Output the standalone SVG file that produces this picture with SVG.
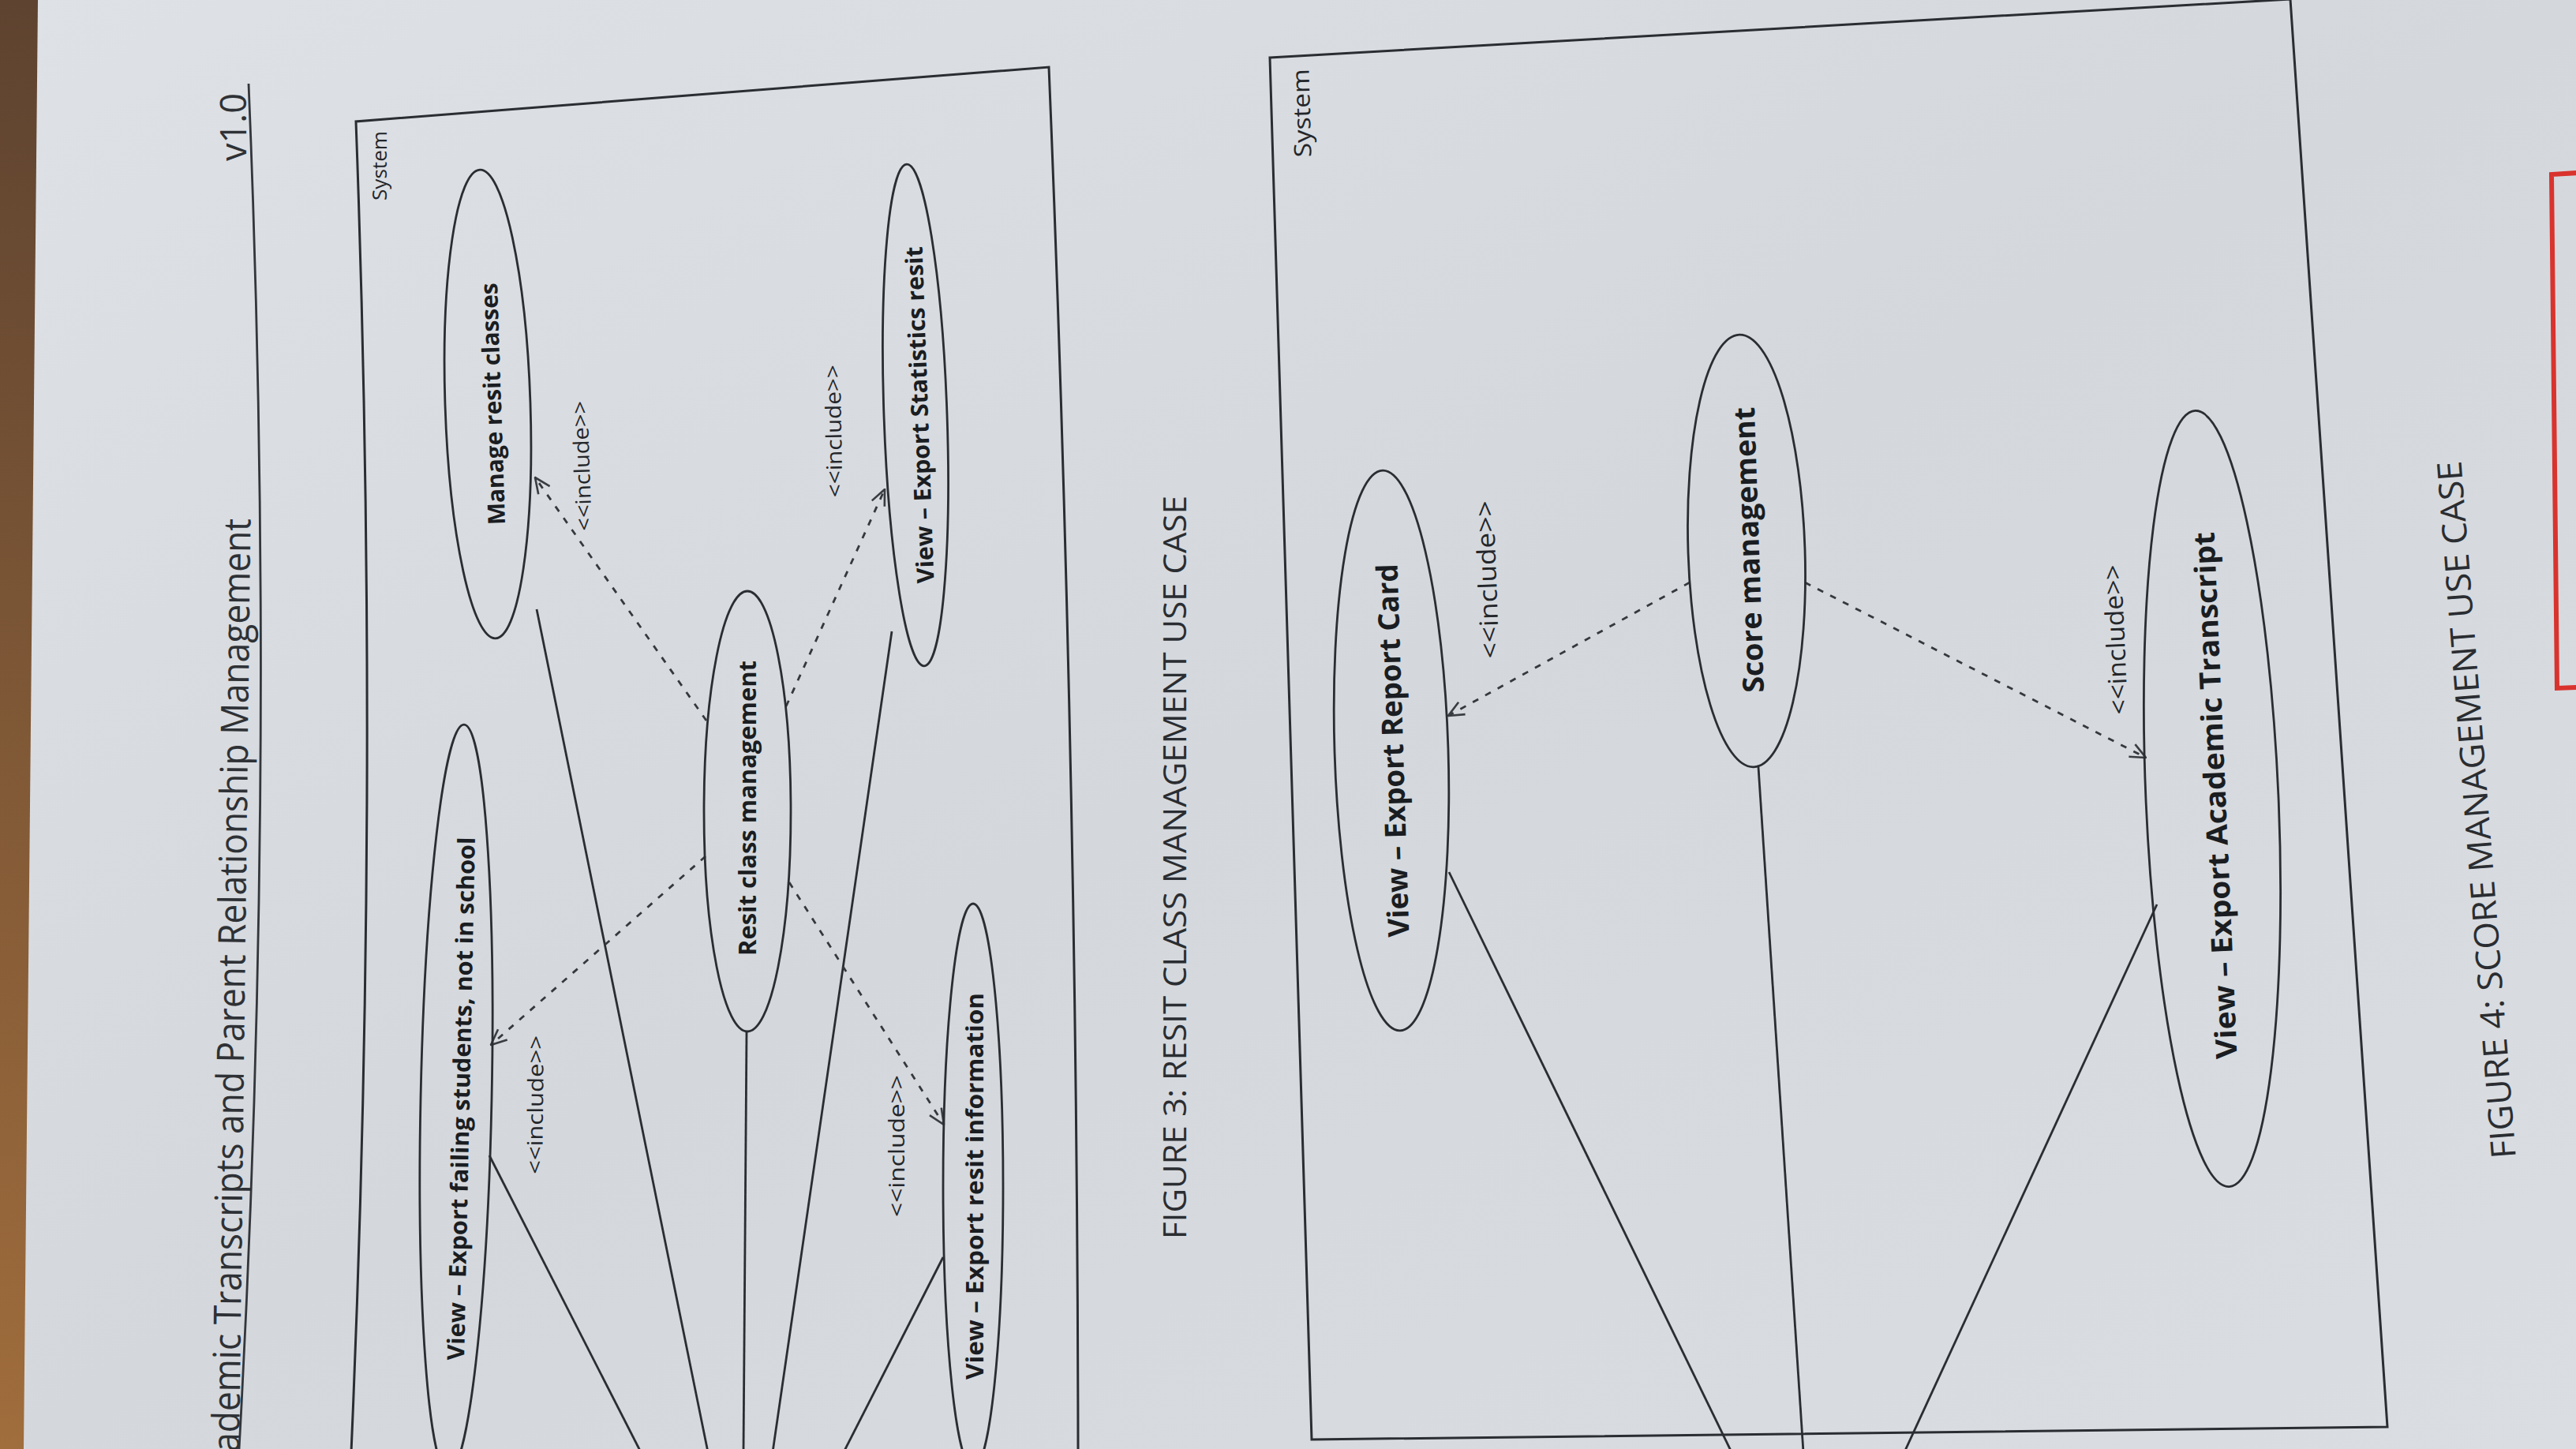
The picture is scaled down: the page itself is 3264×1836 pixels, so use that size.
<svg xmlns="http://www.w3.org/2000/svg" width="3264" height="1836" viewBox="0 0 3264 1836">
<defs>
  <linearGradient id="paper" x1="0" y1="0" x2="1" y2="1">
    <stop offset="0" stop-color="#dee1e5"/>
    <stop offset="0.5" stop-color="#d4d8dd"/>
    <stop offset="1" stop-color="#dadde1"/>
  </linearGradient>
  <linearGradient id="desk" x1="0" y1="0" x2="0" y2="1">
    <stop offset="0" stop-color="#5e4330"/>
    <stop offset="1" stop-color="#a06d3c"/>
  </linearGradient>
  <marker id="open" viewBox="0 0 20 20" refX="19" refY="10" markerWidth="22" markerHeight="22" markerUnits="userSpaceOnUse" orient="auto">
    <path d="M1,2 L19,10 L1,18" fill="none" stroke="#3a3d42" stroke-width="2.4"/>
  </marker>
</defs>
<style>
  .frame{fill:none;stroke:#2a2d32;stroke-width:3}
  .uc{fill:none;stroke:#2a2d32;stroke-width:2.8}
  .assoc{fill:none;stroke:#2a2d32;stroke-width:2.8}
  .inc{fill:none;stroke:#35383d;stroke-width:2.8;stroke-dasharray:8 10;marker-end:url(#open)}
  .lbl{font-family:"Open Sans","DejaVu Sans",sans-serif;font-weight:700;fill:#1a1d21;text-anchor:middle}
  .st{font-family:"Open Sans","DejaVu Sans",sans-serif;fill:#23262a;text-anchor:middle}
  .hdr{font-family:"Open Sans","DejaVu Sans",sans-serif;fill:#2e3135}
  .cap{font-family:"Open Sans","DejaVu Sans",sans-serif;fill:#2a2d31;text-anchor:middle}
</style>

<!-- background: paper and desk edge -->
<rect x="0" y="0" width="3264" height="1836" fill="url(#paper)"/>
<path d="M0,0 L48,0 L30,1836 L0,1836 Z" fill="url(#desk)"/>

<!-- page header -->
<g id="header">
  <path d="M315,106 Q351,971 303,1836" fill="none" stroke="#33363b" stroke-width="2.8"/>
  <text class="hdr" font-size="48" transform="translate(303,1840) rotate(-89.3)" textLength="1183" lengthAdjust="spacingAndGlyphs">ademic Transcripts and Parent Relationship Management</text>
  <text class="hdr" font-size="46" text-anchor="middle" transform="translate(312,161) rotate(-90)" textLength="86" lengthAdjust="spacingAndGlyphs">v1.0</text>
</g>

<!-- ================= FIGURE 3 ================= -->
<g id="system3">
  <path class="frame" d="M445,1840 Q482,995 451,154 L1329,85 Q1365,960 1366,1840"/>
  <text class="st" font-size="25" transform="translate(490,210) rotate(-90)" textLength="88" lengthAdjust="spacingAndGlyphs">System</text>
</g>

<g id="connectors3">
  <path class="assoc" d="M620,1464 L812,1840"/>
  <path class="assoc" d="M680,772 L897,1840"/>
  <path class="assoc" d="M946,1307 L942,1840"/>
  <path class="assoc" d="M1130,800 L979,1840"/>
  <path class="assoc" d="M1195,1593 L1069,1840"/>
  <path class="inc" d="M895,913 L678,605"/>
  <path class="inc" d="M996,895 L1121,620"/>
  <path class="inc" d="M894,1085 L622,1324"/>
  <path class="inc" d="M1000,1118 L1196,1425"/>
  <text class="st" font-size="27" transform="translate(747,590) rotate(-91.9)" textLength="165" lengthAdjust="spacingAndGlyphs">&lt;&lt;include&gt;&gt;</text>
  <text class="st" font-size="27" transform="translate(1066,546) rotate(-91)" textLength="168" lengthAdjust="spacingAndGlyphs">&lt;&lt;include&gt;&gt;</text>
  <text class="st" font-size="27" transform="translate(688,1400) rotate(-89.5)" textLength="176" lengthAdjust="spacingAndGlyphs">&lt;&lt;include&gt;&gt;</text>
  <text class="st" font-size="27" transform="translate(1146,1452) rotate(-90)" textLength="180" lengthAdjust="spacingAndGlyphs">&lt;&lt;include&gt;&gt;</text>
</g>

<g id="uc-manage-resit">
  <ellipse class="uc" cx="618" cy="512" rx="54" ry="297" transform="rotate(-1.9 618 512)"/>
  <text class="lbl" font-size="30" transform="translate(618,512) rotate(-91.9)" y="17" textLength="307" lengthAdjust="spacingAndGlyphs">Manage resit classes</text>
</g>
<g id="uc-stats-resit">
  <ellipse class="uc" cx="1160" cy="526" rx="40" ry="318" transform="rotate(-2 1160 526)"/>
  <text class="lbl" font-size="30" transform="translate(1160,526) rotate(-92)" y="16" textLength="427" lengthAdjust="spacingAndGlyphs">View – Export Statistics resit</text>
</g>
<g id="uc-failing">
  <ellipse class="uc" cx="578" cy="1392" rx="45" ry="474" transform="rotate(1.2 578 1392)"/>
  <text class="lbl" font-size="30" transform="translate(578,1392) rotate(-88.8)" y="17" textLength="663" lengthAdjust="spacingAndGlyphs">View – Export failing students, not in school</text>
</g>
<g id="uc-resit-mgmt">
  <ellipse class="uc" cx="947" cy="1028" rx="55" ry="279"/>
  <text class="lbl" font-size="30" transform="translate(947,1024) rotate(-90)" y="11" textLength="374" lengthAdjust="spacingAndGlyphs">Resit class management</text>
</g>
<g id="uc-resit-info">
  <ellipse class="uc" cx="1233" cy="1503" rx="38" ry="358"/>
  <text class="lbl" font-size="30" transform="translate(1233,1503) rotate(-90)" y="13" textLength="490" lengthAdjust="spacingAndGlyphs">View – Export resit information</text>
</g>

<g id="caption3">
  <text class="cap" font-size="40" transform="translate(1503,1099) rotate(-90)" textLength="942" lengthAdjust="spacingAndGlyphs">FIGURE 3: RESIT CLASS MANAGEMENT USE CASE</text>
</g>

<!-- ================= FIGURE 4 ================= -->
<g id="system4">
  <path class="frame" d="M1609,73 L2902,-1 L3025,1808 L1662,1824 Z"/>
  <text class="st" font-size="30" transform="translate(1660,143) rotate(-91.5)" textLength="112" lengthAdjust="spacingAndGlyphs">System</text>
</g>

<g id="connectors4">
  <path class="assoc" d="M1836,1105 L2194,1840"/>
  <path class="assoc" d="M2228,972 L2285,1840"/>
  <path class="assoc" d="M2733,1146 L2413,1840"/>
  <path class="inc" d="M2141,738 L1835,907"/>
  <path class="inc" d="M2287,738 L2719,960"/>
  <text class="st" font-size="32" transform="translate(1896,734) rotate(-92)" textLength="200" lengthAdjust="spacingAndGlyphs">&lt;&lt;include&gt;&gt;</text>
  <text class="st" font-size="32" transform="translate(2692,810) rotate(-92.5)" textLength="190" lengthAdjust="spacingAndGlyphs">&lt;&lt;include&gt;&gt;</text>
</g>

<g id="uc-report-card">
  <ellipse class="uc" cx="1763" cy="951" rx="72" ry="355" transform="rotate(-1.8 1763 951)"/>
  <text class="lbl" font-size="37" transform="translate(1763,951) rotate(-91.8)" y="15" textLength="473" lengthAdjust="spacingAndGlyphs">View – Export Report Card</text>
</g>
<g id="uc-score-mgmt">
  <ellipse class="uc" cx="2213" cy="698" rx="74" ry="274" transform="rotate(-1.9 2213 698)"/>
  <text class="lbl" font-size="37" transform="translate(2213,697) rotate(-91.9)" y="16" textLength="362" lengthAdjust="spacingAndGlyphs">Score management</text>
</g>
<g id="uc-academic">
  <ellipse class="uc" cx="2803" cy="1012" rx="84" ry="492" transform="rotate(-2.5 2803 1012)"/>
  <text class="lbl" font-size="37" transform="translate(2803,1008) rotate(-92.5)" y="17" textLength="668" lengthAdjust="spacingAndGlyphs">View – Export Academic Transcript</text>
</g>

<g id="caption4">
  <text class="cap" font-size="43" transform="translate(3153,1025) rotate(-94.5)" textLength="886" lengthAdjust="spacingAndGlyphs">FIGURE 4: SCORE MANAGEMENT USE CASE</text>
</g>

<!-- red stamp edge at right -->
<path d="M3266,219 L3233,221 L3240,872 L3266,871" fill="none" stroke="#d9332e" stroke-width="6"/>
</svg>
